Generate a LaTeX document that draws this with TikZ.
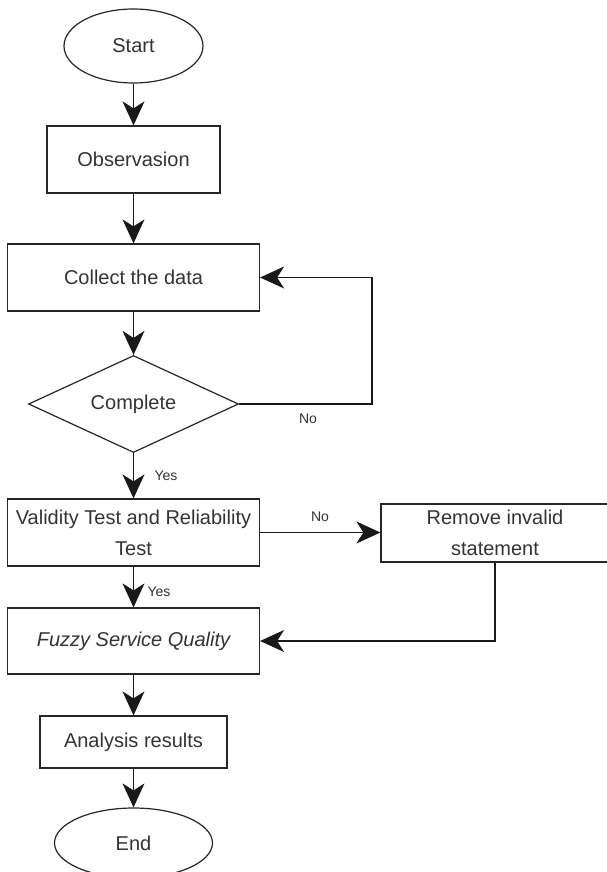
\documentclass[tikz,border=0pt]{standalone}
\usepackage{fontspec}
\setmainfont{Liberation Sans}
\usetikzlibrary{shapes.geometric,arrows.meta}
\definecolor{inkgray}{HTML}{333333}
\begin{document}
\begin{tikzpicture}[x=1pt, y=-1pt,
    box/.style={draw=black!85, line width=1.2pt, text=inkgray, font=\fontsize{20}{31}\selectfont, inner sep=0pt, align=center},
    term/.style={box, ellipse},
    arr/.style={-{Stealth[length=24pt,width=22pt,inset=7pt]}, line width=1.2pt, draw=black!90},
    lbl/.style={text=inkgray, font=\fontsize{14}{16}\selectfont, inner sep=0pt}]
  \useasboundingbox (0,0) rectangle (606,872);
  \node[term, minimum width=139pt, minimum height=74pt] (start) at (133.5,46) {Start};
  \node[box, minimum width=173pt, minimum height=67pt] (obs) at (133.5,159.5) {Observasion};
  \node[box, minimum width=252pt, minimum height=67pt] (collect) at (133.5,277.5) {Collect the data};
  \node[box, diamond, aspect=2.16, minimum width=210pt, minimum height=97pt] (complete) at (133.5,404) {Complete};
  \node[box, minimum width=252pt, minimum height=67pt] (valid) at (133.5,532.5) {Validity Test and Reliability\\Test};
  \node[box, minimum width=228pt, minimum height=58pt] (remove) at (495,533) {Remove invalid\\statement};
  \node[box, minimum width=252pt, minimum height=66pt] (fuzzy) at (133.5,641) {\itshape Fuzzy Service Quality};
  \node[box, minimum width=187pt, minimum height=52pt] (result) at (133.5,742) {Analysis results};
  \node[term, minimum width=158pt, minimum height=70pt] (end) at (133.5,843) {End};
  \node[lbl] (no1) at (308,419) {No};
  \node[lbl] (yes1) at (166,476) {Yes};
  \node[lbl] (no2) at (320,517) {No};
  \node[lbl] (yes2) at (159,592) {Yes};
  \coordinate (loop) at (372,404);
  \draw[arr] (start) -- (obs);
  \draw[arr] (obs) -- (collect);
  \draw[arr] (collect) -- (complete);
  \draw[arr] (complete.east) -- (loop) |- (collect.east);
  \draw[arr] (complete) -- (valid);
  \draw[arr] (valid.east) -- (valid.east -| remove.west);
  \draw[arr] (valid) -- (fuzzy);
  \draw[arr] (remove.south) |- (fuzzy.east);
  \draw[arr] (fuzzy) -- (result);
  \draw[arr] (result) -- (end);
\end{tikzpicture}
\end{document}
